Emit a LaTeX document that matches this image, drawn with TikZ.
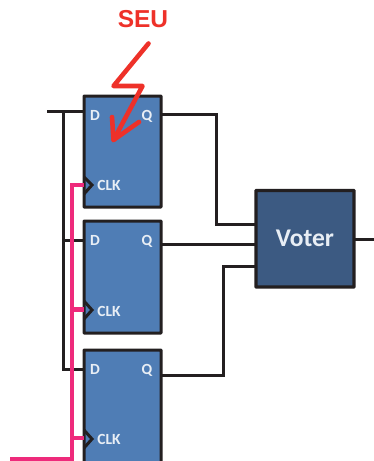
\documentclass[tikz,border=0pt]{standalone}
\usepackage{fontspec}
\setmainfont{Carlito}
\newfontfamily\seufont{Liberation Sans}
\definecolor{ink}{HTML}{231F20}
\definecolor{ffblue}{HTML}{4F7DB5}
\definecolor{voterblue}{HTML}{3C5A82}
\definecolor{clkpink}{HTML}{EE2A7B}
\definecolor{seured}{HTML}{EE3129}
\definecolor{labelwhite}{HTML}{E8EEF5}
\tikzset{
  x=1pt,y=-1pt,
  ffbox/.style={draw=ink,line width=3pt,fill=ffblue,rounded corners=0.5pt,minimum width=77pt,inner sep=0pt,outer sep=0pt,anchor=north west},
  voterbox/.style={draw=ink,line width=3.4pt,fill=voterblue,rounded corners=0.5pt,minimum width=98pt,minimum height=96.5pt,inner sep=0pt,outer sep=0pt,anchor=north west,font=\bfseries\fontsize{25.5}{25.5}\selectfont,text=labelwhite},
  port/.style={font=\bfseries\fontsize{15.5}{15.5}\selectfont,text=labelwhite,inner sep=0pt,anchor=base},
  wire/.style={draw=ink,line width=3pt,line join=miter},
  clkwire/.style={draw=clkpink,line width=4.5pt,line join=miter},
  clktip/.style={draw=ink,line width=3pt,line join=miter},
  bolt/.style={draw=seured,line width=4.6pt,line join=round,line cap=round}
}
\begin{document}
\begin{tikzpicture}
\useasboundingbox (0,0) rectangle (374,461);
% named points
\coordinate (din) at (47,111);
\coordinate (dbus) at (63,111);
\coordinate (clkin) at (10,459);
\coordinate (clkbus) at (72,459);
\coordinate (out) at (374,239);
\coordinate (b1) at (148.5,43.5);
\coordinate (b2) at (113.5,86);
\coordinate (b3) at (142.5,86);
\coordinate (b4) at (113.5,140);
\coordinate (h1) at (112,117);
\coordinate (h2) at (139,122);
% boxes
\begin{scope}
\clip (0,0) rectangle (374,461);
\node[ffbox,minimum height=111pt] (ff1) at (84,96) {};
\node[ffbox,minimum height=112pt] (ff2) at (84,221) {};
\node[ffbox,minimum height=125pt] (ff3) at (84,350) {};
\end{scope}
\node[voterbox] (voter) at (256,190.5) {\raisebox{-1pt}{Voter}};
% wiring
\draw[wire] (din) -- (ff1.west |- din);
\draw[wire] (dbus) -- (63,369) -- (ff3.west |- 0,369);
\draw[wire] (dbus |- 0,240) -- (ff2.west |- 0,240);
\draw[wire] (ff1.east |- 0,114) -- (216,114) -- (216,224) -- (voter.west |- 0,224);
\draw[wire] (ff2.east |- 0,244) -- (voter.west |- 0,244);
\draw[wire] (ff3.east |- 0,375) -- (223,375) -- (223,266) -- (voter.west |- 0,266);
\draw[wire] (voter.east |- out) -- (out);
% clock
\draw[clkwire] (clkin) -- (clkbus) -- (72,185) -- (ff1.west |- 0,185);
\draw[clkwire] (clkbus |- 0,309.5) -- (ff2.west |- 0,309.5);
\draw[clkwire] (clkbus |- 0,438) -- (ff3.west |- 0,438);
% clock markers
\draw[clktip] (ff1.west |- 0,177) -- (92,185) -- (ff1.west |- 0,194);
\draw[clktip] (ff2.west |- 0,301) -- (92,310) -- (ff2.west |- 0,319);
\draw[clktip] (ff3.west |- 0,430) -- (92,439) -- (ff3.west |- 0,448);
% port labels
\node[port] (d1) at (95,120) {D};
\node[port] (q1) at (147,120) {Q};
\node[port] (c1) at (109,190) {CLK};
\node[port] (d2) at (95,245) {D};
\node[port] (q2) at (147,245) {Q};
\node[port] (c2) at (109,316) {CLK};
\node[port] (d3) at (95,374) {D};
\node[port] (q3) at (147,374) {Q};
\node[port] (c3) at (109,444) {CLK};
% SEU
\draw[bolt] (b1) -- (b2) -- (b3) -- (b4);
\draw[bolt] (h1) -- (b4) -- (h2);
\node[inner sep=0pt,text=seured,font=\seufont\bfseries\fontsize{24.5}{24.5}\selectfont] (seu) at (143,19) {SEU};
\end{tikzpicture}
\end{document}
